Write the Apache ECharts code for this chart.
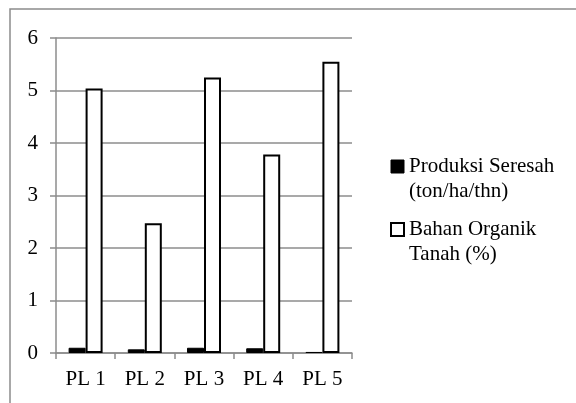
<!DOCTYPE html>
<html>
<head>
<meta charset="utf-8">
<script src="https://cdn.jsdelivr.net/npm/echarts@6/dist/echarts.min.js"></script>
<style>
  html, body { margin: 0; padding: 0; background: #fff; }
</style>
</head>
<body>
<div id="main" style="width: 576px;height:403px;"></div>
<script>
let categories = ['PL 1', 'PL 2', 'PL 3', 'PL 4', 'PL 5']
let produksiSeresah = [0.1, 0.07, 0.1, 0.09, 0.02]
let bahanOrganik = [5.04, 2.47, 5.25, 3.78, 5.55]
let seriesNames = ['Produksi Seresah (ton/ha/thn)', 'Bahan Organik Tanah (%)']
let legendLabels = ['Produksi Seresah\n(ton/ha/thn)', 'Bahan Organik\nTanah (%)']

let myChart = echarts.init(document.getElementById('main'))
let font = 'Liberation Serif, Times New Roman, serif'
let grey = '#8c8c8c'

let option = {
  animation: false,
  textStyle: { fontFamily: font, color: '#000' },
  graphic: [{
    type: 'rect',
    shape: { x: 10, y: 9, width: 620, height: 440 },
    style: { fill: 'none', stroke: grey, lineWidth: 1.5 },
    silent: true
  }],
  grid: {
    left: 56,
    right: 224,
    top: 38,
    bottom: 50
  },
  legend: {
    orient: 'vertical',
    left: 390,
    top: 129,
    padding: 0,
    itemGap: -12,
    itemWidth: 13,
    itemHeight: 13,
    data: [
      { name: seriesNames[0], icon: 'rect', itemStyle: { color: '#000', borderColor: '#000', borderWidth: 1 } },
      { name: seriesNames[1], icon: 'rect', itemStyle: { color: '#fff', borderColor: '#000', borderWidth: 2 } }
    ],
    // empty first line so the icon sits beside the first text line
    formatter: function (name) {
      return ' \n' + legendLabels[seriesNames.indexOf(name)]
    },
    textStyle: {
      fontFamily: font,
      fontSize: 21,
      color: '#000',
      lineHeight: 25
    }
  },
  xAxis: {
    type: 'category',
    data: categories,
    axisLine: { lineStyle: { color: grey, width: 1.5 } },
    axisTick: { show: true, length: 6, lineStyle: { color: grey, width: 1.5 } },
    axisLabel: { fontFamily: font, fontSize: 21, color: '#000', margin: 16 }
  },
  yAxis: {
    type: 'value',
    min: 0,
    max: 6,
    interval: 1,
    axisLine: { show: true, lineStyle: { color: grey, width: 1.5 } },
    axisTick: { show: true, length: 6, lineStyle: { color: grey, width: 1.5 } },
    axisLabel: { fontFamily: font, fontSize: 21, color: '#000', margin: 18 },
    splitLine: { show: true, lineStyle: { color: grey, width: 1.5 } }
  },
  series: [
    {
      name: seriesNames[0],
      type: 'bar',
      barWidth: 17,
      barGap: '0%',
      itemStyle: { color: '#000', borderColor: '#000', borderWidth: 1 },
      data: produksiSeresah
    },
    {
      name: seriesNames[1],
      type: 'bar',
      barWidth: 17,
      barGap: '0%',
      itemStyle: { color: '#fff', borderColor: '#000', borderWidth: 2 },
      data: bahanOrganik
    }
  ]
}
myChart.setOption(option)
</script>
</body>
</html>
